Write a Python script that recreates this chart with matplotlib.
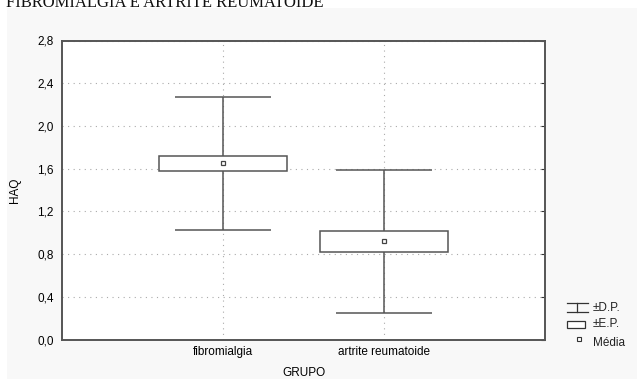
import matplotlib.pyplot as plt
from matplotlib.patches import Rectangle
from matplotlib.lines import Line2D

# group stats (HAQ)
grupos = ['fibromialgia', 'artrite reumatoide']
medias = [1.65, 0.92]
erro_padrao = [0.07, 0.10]
desvio_padrao = [0.62, 0.67]
y_ticks = [0.0, 0.4, 0.8, 1.2, 1.6, 2.0, 2.4, 2.8]
y_labels = ['0,0', '0,4', '0,8', '1,2', '1,6', '2,0', '2,4', '2,8']

W, H = 637, 379
fig = plt.figure(figsize=(W / 100, H / 100), dpi=100, facecolor='white')
plt.rcParams['font.family'] = ['Liberation Sans', 'DejaVu Sans']

# light gray panel behind the plot (white strip on top/left)
fig.patches.append(Rectangle((7 / W, 0), 1 - 7 / W, 1 - 8 / H, transform=fig.transFigure,
                             facecolor='#f8f8f8', edgecolor='none', zorder=-5))
fig.text(6 / W, 1 - 7 / H, 'FIBROMIALGIA E ARTRITE REUMATOIDE', family=['Liberation Serif', 'DejaVu Serif'],
         fontsize=12, va='baseline', ha='left', color='#111111')

ax = fig.add_axes([62 / W, (H - 339.5) / H, (545 - 62) / W, (339.5 - 40.5) / H])
ax.set_facecolor('white')

x = [1, 2]
edge = '#555555'
box_w = 0.79
cap_w = 0.6
for xi, m, se, sd in zip(x, medias, erro_padrao, desvio_padrao):
    ax.vlines(xi, m - sd, m + sd, color=edge, lw=1.1, zorder=3)
    ax.hlines([m - sd, m + sd], xi - cap_w / 2, xi + cap_w / 2, color=edge, lw=1.1, zorder=3)
    ax.add_patch(Rectangle((xi - box_w / 2, m - se), box_w, 2 * se, facecolor='white',
                           edgecolor=edge, lw=1.1, zorder=4))
ax.plot(x, medias, 's', ms=3.2, mfc='white', mec='#444444', mew=0.9, zorder=5)

ax.set_xlim(0.0, 3.0)
ax.set_ylim(0, 2.8)
ax.set_xticks(x)
ax.set_xticklabels(grupos, fontsize=8.5)
ax.set_yticks(y_ticks)
ax.set_yticklabels(y_labels, fontsize=8.5)
ax.tick_params(axis='x', length=0, pad=5)
ax.tick_params(axis='y', left=False, right=True, direction='in', length=3, pad=6, color='#333333')
ax.grid(True, linestyle=(0, (1, 4)), color='#aaaaaa', lw=0.8)
ax.set_axisbelow(True)
for s in ax.spines.values():
    s.set_color('#555555')
    s.set_linewidth(1.4)

ax.set_xlabel('GRUPO', fontsize=8.5, labelpad=6)
ax.set_ylabel('HAQ', fontsize=8.5, labelpad=12)

# legend drawn by hand in pixel coords
def px(xp, yp):
    return xp / W, 1 - yp / H

tf = fig.transFigure
lc = '#333333'
for (x0, y0), (x1, y1) in [((567, 303.3), (588, 303.3)), ((567, 311.7), (588, 311.7)),
                           ((577, 303.3), (577, 311.7))]:
    a, b = px(x0, y0)
    c, d = px(x1, y1)
    fig.add_artist(Line2D([a, c], [b, d], transform=tf, color=lc, lw=0.9))
a, b = px(567, 328.3)
fig.patches.append(Rectangle((a, b), 18 / W, 7.3 / H, transform=tf, facecolor='white',
                             edgecolor=lc, lw=0.9))
a, b = px(578.5, 338.5)
fig.add_artist(Line2D([a], [b], transform=tf, marker='s', ms=3.2, mfc='white', mec=lc, mew=0.8))
for txt, yp in [('±D.P.', 307.7), ('±E.P.', 324.3), ('Média', 342.7)]:
    a, b = px(593, yp)
    fig.text(a, b, txt, fontsize=8.5, va='center', ha='left', color='#222222')

fig.savefig('out.png', dpi=100, facecolor=fig.get_facecolor())
